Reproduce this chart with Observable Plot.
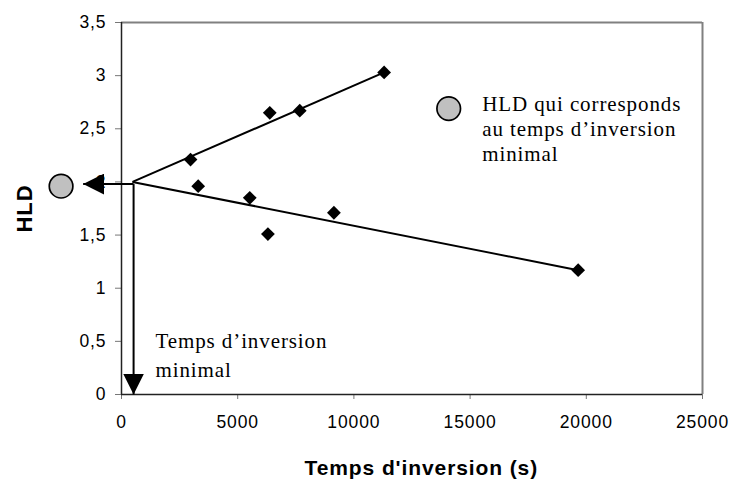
<!DOCTYPE html>
<html>
<head>
<meta charset="utf-8">
<script src="https://cdn.jsdelivr.net/npm/d3@7"></script>
<script src="https://cdn.jsdelivr.net/npm/@observablehq/plot@0.6"></script>
<style>
  html, body { margin: 0; padding: 0; background: #fff; }
  #chart svg text { letter-spacing: 0.9px; }
  #chart g[aria-label="annotation"] text { letter-spacing: 1.1px; }
  #chart g[aria-label="axis-title"] text { letter-spacing: 1.4px; }
  #chart g[aria-label="axis-title-y"] text { letter-spacing: 0.5px; }
  #chart g[aria-label="x-axis tick"], #chart g[aria-label="y-axis tick"] { stroke: #777; }
  #chart .tick line { stroke: #777; }
</style>
</head>
<body>
<div id="chart"></div>
<script>
// Data
const upperT   = [2970, 6380, 7670, 11300];
const upperHLD = [2.21, 2.65, 2.67, 3.03];
const lowerT   = [3300, 5520, 6300, 9140, 19650];
const lowerHLD = [1.96, 1.85, 1.51, 1.71, 1.17];

// Intersection of the two trend lines (minimal inversion time)
const crossT = 473, crossHLD = 2.0;
const tMin = 520, hldMin = 1.98;

// Annotation anchors (data units)
const arrowLeftT = -1650;
const markerCircleT = -2600, markerCircleHLD = 1.96;
const legendCircleT = 14080, legendCircleHLD = 2.69;
const legendTextT = 15520, legendTextHLD = 2.83;
const minTextT = 1463, minTextHLD = 0.625;
const yTitleT = -4150, yTitleHLD = 1.75;
const xTitleT = 12900, xTitleHLD = -0.69;

const xTicks = [0, 5000, 10000, 15000, 20000, 25000];
const yTicks = [0, 0.5, 1, 1.5, 2, 2.5, 3, 3.5];

const legendText = "HLD qui corresponds\nau temps d’inversion\nminimal";
const minText = "Temps d’inversion\nminimal";
const xTitle = "Temps d'inversion (s)";
const yTitle = "HLD";

const points = [
  ...upperT.map((t, i) => ({t, h: upperHLD[i]})),
  ...lowerT.map((t, i) => ({t, h: lowerHLD[i]}))
];
const trends = [
  {x1: crossT, y1: crossHLD, x2: upperT[upperT.length - 1], y2: upperHLD[upperHLD.length - 1]},
  {x1: crossT, y1: crossHLD, x2: lowerT[lowerT.length - 1], y2: lowerHLD[lowerHLD.length - 1]}
];
const arrows = [
  {x1: tMin, y1: hldMin, x2: arrowLeftT, y2: hldMin},
  {x1: tMin, y1: hldMin, x2: tMin, y2: 0}
];
const circles = [
  {t: markerCircleT, h: markerCircleHLD},
  {t: legendCircleT, h: legendCircleHLD}
];

function filledArrow(color) {
  const ns = "http://www.w3.org/2000/svg";
  const m = document.createElementNS(ns, "marker");
  m.setAttribute("viewBox", "-21 -10.5 21 21");
  m.setAttribute("markerWidth", 21);
  m.setAttribute("markerHeight", 21);
  m.setAttribute("markerUnits", "userSpaceOnUse");
  m.setAttribute("orient", "auto");
  m.setAttribute("refX", 0);
  m.setAttribute("refY", 0);
  const p = document.createElementNS(ns, "path");
  p.setAttribute("d", "M-21,-10.5L0,0L-21,10.5Z");
  p.setAttribute("fill", "black");
  p.setAttribute("stroke", "none");
  m.appendChild(p);
  return m;
}

const chart = Plot.plot({
  width: 733,
  height: 482,
  marginLeft: 121,
  marginRight: 31,
  marginTop: 22,
  marginBottom: 88,
  style: {
    fontFamily: "'Liberation Sans', Arial, sans-serif",
    fontSize: "17.5px",
    color: "black",
    background: "white",
    overflow: "visible"
  },
  x: {
    domain: [0, 25000],
    ticks: xTicks,
    tickSize: 5,
    tickPadding: 16,
    tickFormat: d => String(d),
    label: null
  },
  y: {
    domain: [0, 3.5],
    ticks: yTicks,
    tickSize: 6,
    tickPadding: 9,
    tickFormat: d => String(d).replace(".", ","),
    label: null
  },
  marks: [
    Plot.ruleY([3.5], {stroke: "#808080", strokeWidth: 2}),
    Plot.ruleX([25000], {stroke: "#808080", strokeWidth: 2}),
    Plot.ruleY([0], {stroke: "#222", strokeWidth: 1.5}),
    Plot.ruleX([0], {stroke: "#222", strokeWidth: 1.5}),
    Plot.link(trends, {x1: "x1", y1: "y1", x2: "x2", y2: "y2", stroke: "black", strokeWidth: 2}),
    Plot.link(arrows, {x1: "x1", y1: "y1", x2: "x2", y2: "y2", stroke: "black", strokeWidth: 2, markerEnd: filledArrow}),
    Plot.dot(points, {x: "t", y: "h", symbol: "diamond2", r: 6.2, fill: "black", stroke: "none"}),
    Plot.dot(circles, {x: "t", y: "h", r: 11.8, fill: "#c0c0c0", stroke: "black", strokeWidth: 1.7}),
    Plot.text([legendText], {x: legendTextT, y: legendTextHLD, text: d => d, textAnchor: "start", lineAnchor: "top", lineHeight: 1.18, fontFamily: "'Liberation Serif', 'Times New Roman', serif", fontSize: 21, ariaLabel: "annotation"}),
    Plot.text([minText], {x: minTextT, y: minTextHLD, text: d => d, textAnchor: "start", lineAnchor: "top", lineHeight: 1.35, fontFamily: "'Liberation Serif', 'Times New Roman', serif", fontSize: 21, ariaLabel: "annotation"}),
    Plot.text([xTitle], {x: xTitleT, y: xTitleHLD, text: d => d, fontWeight: "bold", fontSize: 21, ariaLabel: "axis-title"}),
    Plot.text([yTitle], {x: yTitleT, y: yTitleHLD, text: d => d, rotate: -90, fontWeight: "bold", fontSize: 22, ariaLabel: "axis-title-y"})
  ]
});
document.getElementById("chart").appendChild(chart);
</script>
</body>
</html>
